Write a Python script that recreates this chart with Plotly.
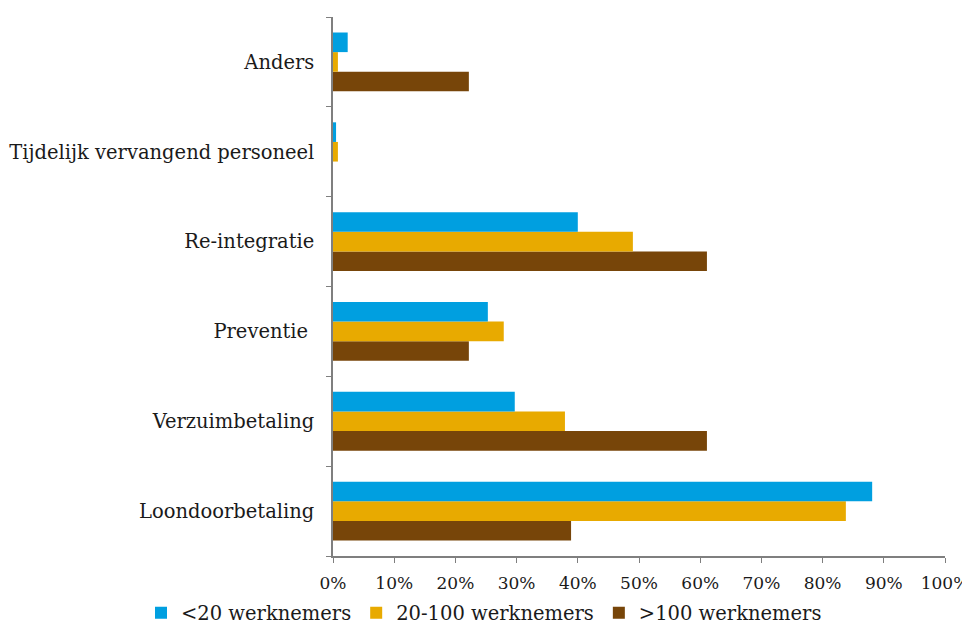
import plotly.graph_objects as go

categories = ["Loondoorbetaling", "Verzuimbetaling", "Preventie ", "Re-integratie",
              "Tijdelijk vervangend personeel", "Anders"]
series_names = ["<20 werknemers", "20-100 werknemers", ">100 werknemers"]
small = [88.1, 29.7, 25.3, 40.0, 0.5, 2.4]
medium = [83.8, 37.9, 27.9, 49.0, 0.8, 0.8]
large = [38.9, 61.1, 22.2, 61.1, 0.0, 22.2]
colors = ["#009FE0", "#E8AA00", "#774509"]
x_ticks = list(range(0, 101, 10))
x_tick_labels = [f"{v}%" for v in x_ticks]

fig = go.Figure()
# order traces so that <20 is on top within each group
for name, vals, col in reversed(list(zip(series_names, [small, medium, large], colors))):
    fig.add_trace(go.Bar(y=categories, x=vals, name=name, orientation="h",
                         marker=dict(color=col, line=dict(width=0))))

font = dict(family="DejaVu Serif", size=19.5, color="#1a1a1a")
# page body has an 8px default margin, so the figure is 8px smaller than the window
fig.update_layout(
    width=962, height=617,
    barmode="group", bargap=0.345, bargroupgap=0,
    plot_bgcolor="white", paper_bgcolor="white",
    margin=dict(l=325, r=25, t=9, b=69, autoexpand=False),
    font=font,
    showlegend=True,
    legend=dict(orientation="h", xref="paper", x=(133 - 325) / 612, xanchor="left",
                yref="paper", y=-57 / 539, yanchor="middle",
                bgcolor="rgba(0,0,0,0)",
                traceorder="reversed", font=font, itemwidth=30),
    xaxis=dict(range=[0, 100], tickvals=x_ticks, ticktext=x_tick_labels,
               showgrid=False, zeroline=False, showline=True, linecolor="#7f7f7f",
               linewidth=1.5, ticks="outside", ticklen=5, tickcolor="#7f7f7f",
               tickfont=dict(family="DejaVu Serif", size=17, color="#1a1a1a"),
               ticklabeloverflow="allow",
               ticklabelstandoff=6, automargin=False, fixedrange=True),
    yaxis=dict(showgrid=False, zeroline=False, showline=True, linecolor="#7f7f7f",
               linewidth=1.5, ticks="outside", ticklen=5, tickcolor="#7f7f7f",
               tickson="boundaries", ticklabelstandoff=13, automargin=False),
)
fig.write_html("out.html")
